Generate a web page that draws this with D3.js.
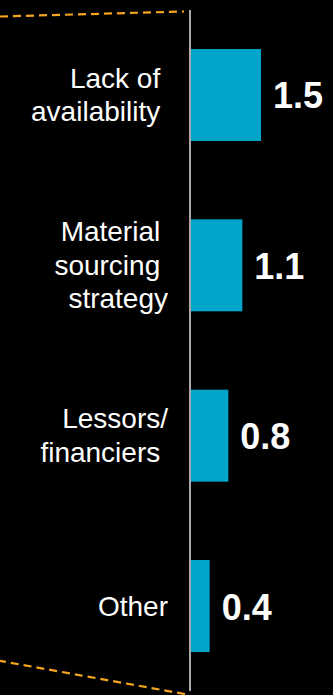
<!DOCTYPE html>
<html>
<head>
<meta charset="utf-8">
<script src="https://cdn.jsdelivr.net/npm/d3@7"></script>
<style>
  html, body { margin: 0; padding: 0; background: #000; }
  svg { display: block; }
  text { font-family: "Liberation Sans", Arial, sans-serif; }
</style>
</head>
<body>
<svg id="chart" width="333" height="695"></svg>
<script>
// Categories (each label split into its display lines) and their values
const categories = ["Lack of availability", "Material sourcing strategy", "Lessors/ financiers", "Other"];
const categoryLines = [
  ["Lack of\u00A0", "availability\u00A0"],
  ["Material\u00A0", "sourcing\u00A0", "strategy"],
  ["Lessors/", "financiers\u00A0"],
  ["Other"]
];
const values = [1.5, 1.1, 0.8, 0.4];
const valueLabels = ["1.5", "1.1", "0.8", "0.4"];

const svg = d3.select("#chart");
const W = 333, H = 695;

svg.append("rect").attr("width", W).attr("height", H).attr("fill", "#000");

const axisX = 190;
const x = d3.scaleLinear().domain([0, 1.5]).range([axisX + 1, 261]);
const y = d3.scaleBand().domain(categories).range([49, 652]).paddingInner(0.46).paddingOuter(0);

// Dashed connector lines
const dashColor = "#F6A61E";
svg.append("line")
  .attr("x1", 0).attr("y1", 16.5).attr("x2", 184).attr("y2", 11.5)
  .attr("stroke", dashColor).attr("stroke-width", 2.2)
  .attr("stroke-dasharray", "8,5");
svg.append("line")
  .attr("x1", -2).attr("y1", 660.5).attr("x2", 190).attr("y2", 695)
  .attr("stroke", dashColor).attr("stroke-width", 2.2)
  .attr("stroke-dasharray", "8,5");

// Bars
svg.selectAll("rect.bar")
  .data(values)
  .join("rect")
  .attr("class", "bar")
  .attr("x", x(0))
  .attr("y", (d, i) => y(categories[i]))
  .attr("width", d => x(d) - x(0))
  .attr("height", y.bandwidth())
  .attr("fill", "#00A6C9");

// Vertical axis line
svg.append("line")
  .attr("x1", axisX).attr("x2", axisX)
  .attr("y1", 10).attr("y2", 691)
  .attr("stroke", "#A8A8A8").attr("stroke-width", 2);

// Category labels, right-aligned left of the axis
const lineH = 33.5;
const catG = svg.selectAll("text.cat")
  .data(categoryLines)
  .join("text")
  .attr("class", "cat")
  .attr("text-anchor", "end")
  .attr("fill", "#fff")
  .attr("font-size", 28);
catG.each(function(lines, i) {
  const cy = y(categories[i]) + y.bandwidth() / 2;
  const first = cy + 9.5 - (lines.length - 1) * lineH / 2;
  d3.select(this).selectAll("tspan")
    .data(lines)
    .join("tspan")
    .attr("x", 168)
    .attr("y", (d, j) => first + j * lineH)
    .text(d => d);
});

// Value labels
svg.selectAll("text.val")
  .data(values)
  .join("text")
  .attr("class", "val")
  .attr("x", d => x(d) + 12)
  .attr("y", (d, i) => y(categories[i]) + y.bandwidth() / 2 + 13.5)
  .attr("fill", "#fff")
  .attr("font-size", 36)
  .attr("font-weight", "bold")
  .text((d, i) => valueLabels[i]);
</script>
</body>
</html>
